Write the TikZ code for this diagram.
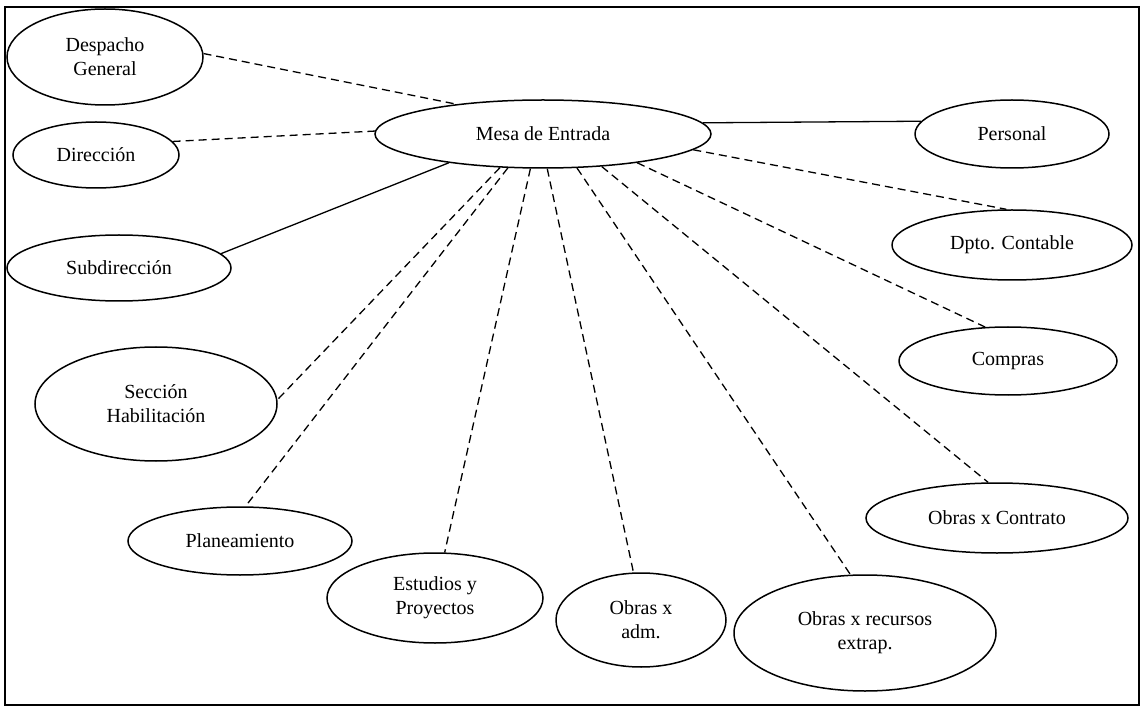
\documentclass[tikz,border=0pt]{standalone}
\usepackage{fontspec}
\setmainfont{Liberation Serif}
\usetikzlibrary{shapes.geometric}
\begin{document}
\begin{tikzpicture}[x=1pt,y=-1pt,
  unit/.style={draw, ellipse, line width=1.5pt, inner sep=0pt, align=center,
    font=\fontsize{20}{24}\selectfont},
  dashlink/.style={line width=1.3pt, dash pattern=on 8pt off 5pt},
  solidlink/.style={line width=1.3pt}]
\useasboundingbox (0,0) rectangle (1143,708);
\draw[line width=1.5pt] (5,7) rectangle (1139,705);
\node[unit, minimum width=336pt, minimum height=68pt] (M) at (543,134) {Mesa de Entrada};
\node[unit, minimum width=196pt, minimum height=96pt] (D) at (105,57) {Despacho\\General};
\node[unit, minimum width=166pt, minimum height=66pt] (R) at (96,155) {Dirección};
\node[unit, minimum width=224pt, minimum height=66pt] (S) at (119,268) {Subdirección};
\node[unit, minimum width=194pt, minimum height=68pt] (P) at (1012,134) {Personal};
\node[unit, minimum width=240pt, minimum height=70pt] (C) at (1012,245) {Dpto. Contable};
\node[unit, minimum width=218pt, minimum height=68pt] (K) at (1008,361) {Compras};
\node[unit, minimum width=242pt, minimum height=114pt] (H) at (156,404) {Sección\\Habilitación};
\node[unit, minimum width=224pt, minimum height=68pt] (L) at (240,541) {Planeamiento};
\node[unit, minimum width=216pt, minimum height=90pt] (E) at (435,598) {Estudios y\\Proyectos};
\node[unit, minimum width=170pt, minimum height=94pt] (A) at (641,620) {Obras x\\adm.};
\node[unit, minimum width=262pt, minimum height=116pt] (X) at (865,633) {Obras x recursos\\extrap.};
\node[unit, minimum width=262pt, minimum height=70pt] (T) at (997,518) {Obras x Contrato};
\draw[dashlink] (D.2) -- (M.161.6);
\draw[dashlink] (R.10) -- (M.179);
\draw[solidlink] (S.8) -- (M.197.9);
\draw[solidlink] (M.4.5) -- (P.172.8);
\draw[dashlink] (M.-6) -- (C.99.7);
\draw[dashlink] (M.-17.9) -- (K.124);
\draw[dashlink] (M.-29.4) -- (T.104.4);
\draw[dashlink] (M.-45.9) -- (X.104);
\draw[dashlink] (M.-83.3) -- (A.99.7);
\draw[dashlink] (M.-110.9) -- (E.78.7);
\draw[dashlink] (M.-136.7) -- (L.81.6);
\draw[dashlink] (M.-142.5) -- (H.2);
\end{tikzpicture}
\end{document}
